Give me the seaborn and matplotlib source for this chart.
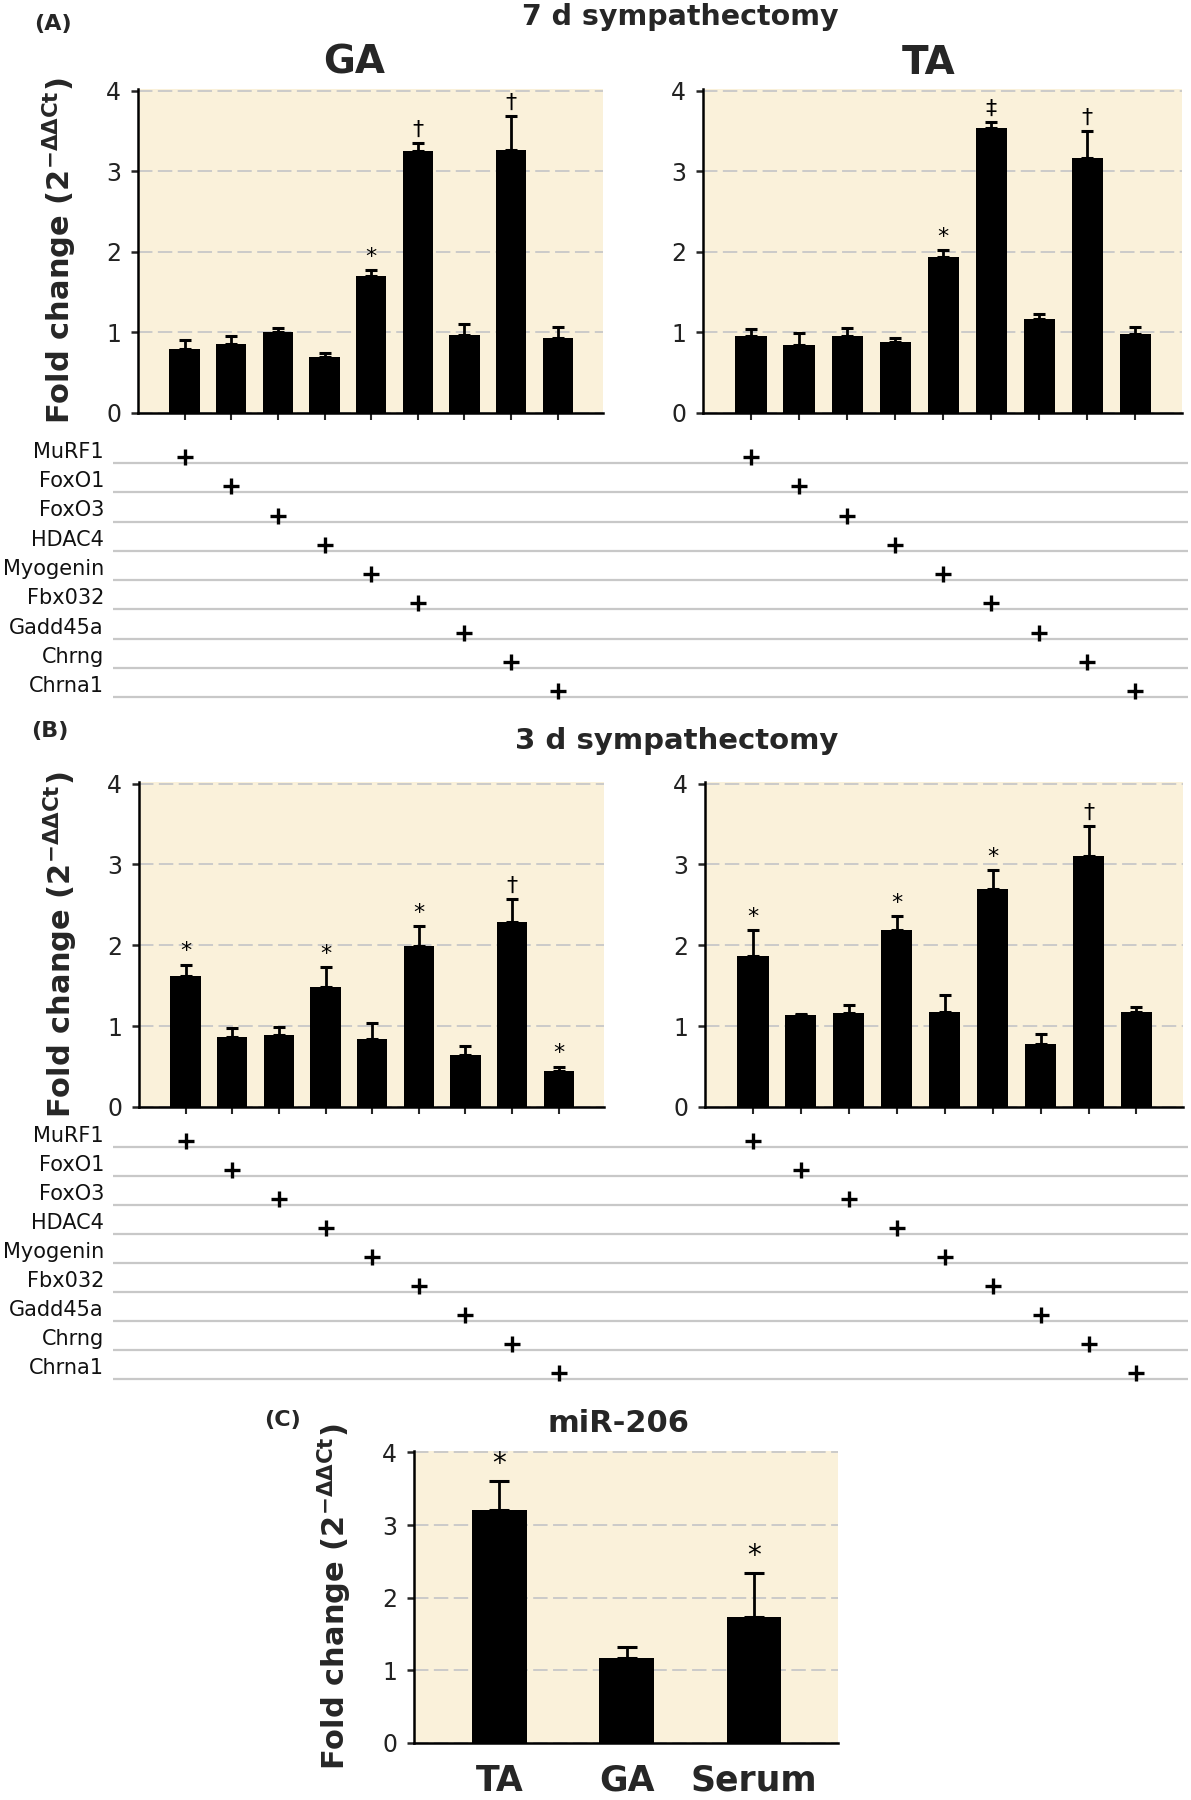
import matplotlib
matplotlib.use("Agg")
import matplotlib.pyplot as plt
import matplotlib.transforms as mtransforms
import seaborn as sns
import numpy as np

# ---- data ----
genes = ["MuRF1", "FoxO1", "FoxO3", "HDAC4", "Myogenin",
         "Fbx032", "Gadd45a", "Chrng", "Chrna1"]

ga_7d = [0.79, 0.85, 1.00, 0.70, 1.70, 3.25, 0.97, 3.26, 0.93]
ga_7d_err = [0.12, 0.11, 0.05, 0.05, 0.07, 0.10, 0.13, 0.42, 0.14]
ga_7d_sig = ["", "", "", "", "*", "†", "", "†", ""]

ta_7d = [0.95, 0.84, 0.95, 0.88, 1.93, 3.54, 1.17, 3.16, 0.98]
ta_7d_err = [0.09, 0.15, 0.11, 0.05, 0.09, 0.07, 0.06, 0.34, 0.09]
ta_7d_sig = ["", "", "", "", "*", "‡", "", "†", ""]

ga_3d = [1.62, 0.87, 0.89, 1.48, 0.84, 1.99, 0.64, 2.29, 0.44]
ga_3d_err = [0.14, 0.11, 0.10, 0.25, 0.20, 0.25, 0.12, 0.28, 0.06]
ga_3d_sig = ["*", "", "", "*", "", "*", "", "†", "*"]

ta_3d = [1.87, 1.14, 1.16, 2.19, 1.18, 2.70, 0.78, 3.10, 1.18]
ta_3d_err = [0.32, 0.01, 0.10, 0.17, 0.21, 0.23, 0.12, 0.38, 0.06]
ta_3d_sig = ["*", "", "", "*", "", "*", "", "†", ""]

mir_groups = ["TA", "GA", "Serum"]
mir206 = [3.21, 1.17, 1.74]
mir206_err = [0.40, 0.15, 0.60]
mir206_sig = ["*", "", "*"]

# ---- style ----
sns.set_theme(style="ticks")
plt.rcParams["font.family"] = ["DejaVu Sans"]
plt.rcParams["mathtext.fontset"] = "dejavusans"

W, H = 1191, 1800
BG = "#FAF1DA"
GRID = "#C8C8C8"
YLABEL = r"Fold change (2$^{\mathbf{-\Delta\Delta Ct}}$)"

fig = plt.figure(figsize=(W / 100, H / 100), dpi=100)
fig.patch.set_facecolor("white")


def rect(left, top, right, bottom):
    # pixel box -> figure fraction
    return [left / W, 1 - bottom / H, (right - left) / W, (bottom - top) / H]


def ftext(x, y, s, **kw):
    fig.text(x / W, 1 - y / H, s, ha="center", va="center", **kw)


def bar_panel(box, labels, vals, errs, sigs, xlim, width=0.65,
              capsize=4.5, sig_size=16):
    ax = fig.add_axes(rect(*box))
    ax.set_facecolor(BG)
    sns.barplot(x=labels, y=vals, color="black", saturation=1,
                width=width, errorbar=None, linewidth=0, ax=ax)
    pos = np.arange(len(vals))
    ax.errorbar(pos, vals, yerr=[np.zeros(len(vals)), errs], fmt="none",
                ecolor="black", elinewidth=2, capsize=capsize, capthick=2.2)
    for i, s in enumerate(sigs):
        if s:
            ax.text(i, vals[i] + errs[i] + 0.04, s, ha="center", va="bottom",
                    fontsize=sig_size, color="black")
    ax.set_xlim(*xlim)
    ax.set_ylim(0, 4.02)
    ax.set_yticks([0, 1, 2, 3, 4])
    ax.yaxis.grid(True, color=GRID, linestyle=(0, (8, 3)), linewidth=1.3)
    ax.set_axisbelow(True)
    sns.despine(ax=ax)
    for side in ("left", "bottom"):
        ax.spines[side].set_linewidth(1.8)
        ax.spines[side].set_color("black")
    ax.tick_params(axis="y", length=5, width=1.8, direction="out",
                   labelsize=17, pad=7, labelcolor="#222222")
    ax.tick_params(axis="x", length=5, width=1.5, direction="out")
    ax.set_xlabel("")
    ax.set_ylabel("")
    return ax


def gene_table(bar_axes, top, bottom, first_line, step):
    axt = fig.add_axes(rect(0, top, W, bottom))
    axt.set_xlim(0, W)
    axt.set_ylim(bottom, top)
    axt.axis("off")
    for i, g in enumerate(genes):
        y = first_line + i * step
        axt.plot([113, 1188], [y, y], color=GRID, lw=1.6, solid_capstyle="butt")
        axt.text(104, y - 1, g, ha="right", va="bottom", fontsize=15,
                 color="#111111")
        for axb in bar_axes:
            tr = mtransforms.blended_transform_factory(axb.transData, axt.transData)
            axt.plot([i], [y - 6], marker="+", ms=11, mew=2.4, color="black",
                     transform=tr, clip_on=False)
    return axt


xl = (-1.0, 8.97)

# (A) 7 d sympathectomy
ax_a1 = bar_panel((138, 89, 603, 413), genes, ga_7d, ga_7d_err, ga_7d_sig, xl)
ax_a2 = bar_panel((703, 89, 1182, 413), genes, ta_7d, ta_7d_err, ta_7d_sig, xl)
for ax in (ax_a1, ax_a2):
    ax.set_xticklabels([])
ax_a1.set_ylabel(YLABEL, fontsize=22, fontweight="bold")
ax_a1.yaxis.set_label_coords(-0.128, 0.5)
gene_table([ax_a1, ax_a2], 440, 705, 463, 29.25)

ftext(53, 24, "(A)", fontsize=16, fontweight="bold")
ftext(680, 17, "7 d sympathectomy", fontsize=20.5, fontweight="bold")
ftext(354, 63, "GA", fontsize=28, fontweight="bold")
ftext(929, 63, "TA", fontsize=28, fontweight="bold")

# (B) 3 d sympathectomy
ax_b1 = bar_panel((139, 782, 604, 1107), genes, ga_3d, ga_3d_err, ga_3d_sig, xl)
ax_b2 = bar_panel((705, 782, 1183, 1107), genes, ta_3d, ta_3d_err, ta_3d_sig, xl)
for ax in (ax_b1, ax_b2):
    ax.set_xticklabels([])
ax_b1.set_ylabel(YLABEL, fontsize=22, fontweight="bold")
ax_b1.yaxis.set_label_coords(-0.128, 0.5)
gene_table([ax_b1, ax_b2], 1125, 1390, 1147, 29.0)

ftext(50, 731, "(B)", fontsize=16, fontweight="bold")
ftext(677, 741, "3 d sympathectomy", fontsize=21, fontweight="bold")

# (C) miR-206
ax_c = bar_panel((414, 1451, 838, 1743), mir_groups, mir206, mir206_err,
                 mir206_sig, (-0.67, 2.66), width=0.43, capsize=7, sig_size=20)
ax_c.tick_params(axis="x", length=0, pad=15, labelsize=25)
for lab in ax_c.get_xticklabels():
    lab.set_fontweight("bold")
ax_c.set_ylabel(YLABEL, fontsize=22, fontweight="bold")
ax_c.yaxis.set_label_coords(-0.145, 0.5)

ftext(282, 1420, "(C)", fontsize=16, fontweight="bold")
ftext(618, 1424, "miR-206", fontsize=22, fontweight="bold")

fig.savefig("out.png", dpi=100, facecolor="white")
